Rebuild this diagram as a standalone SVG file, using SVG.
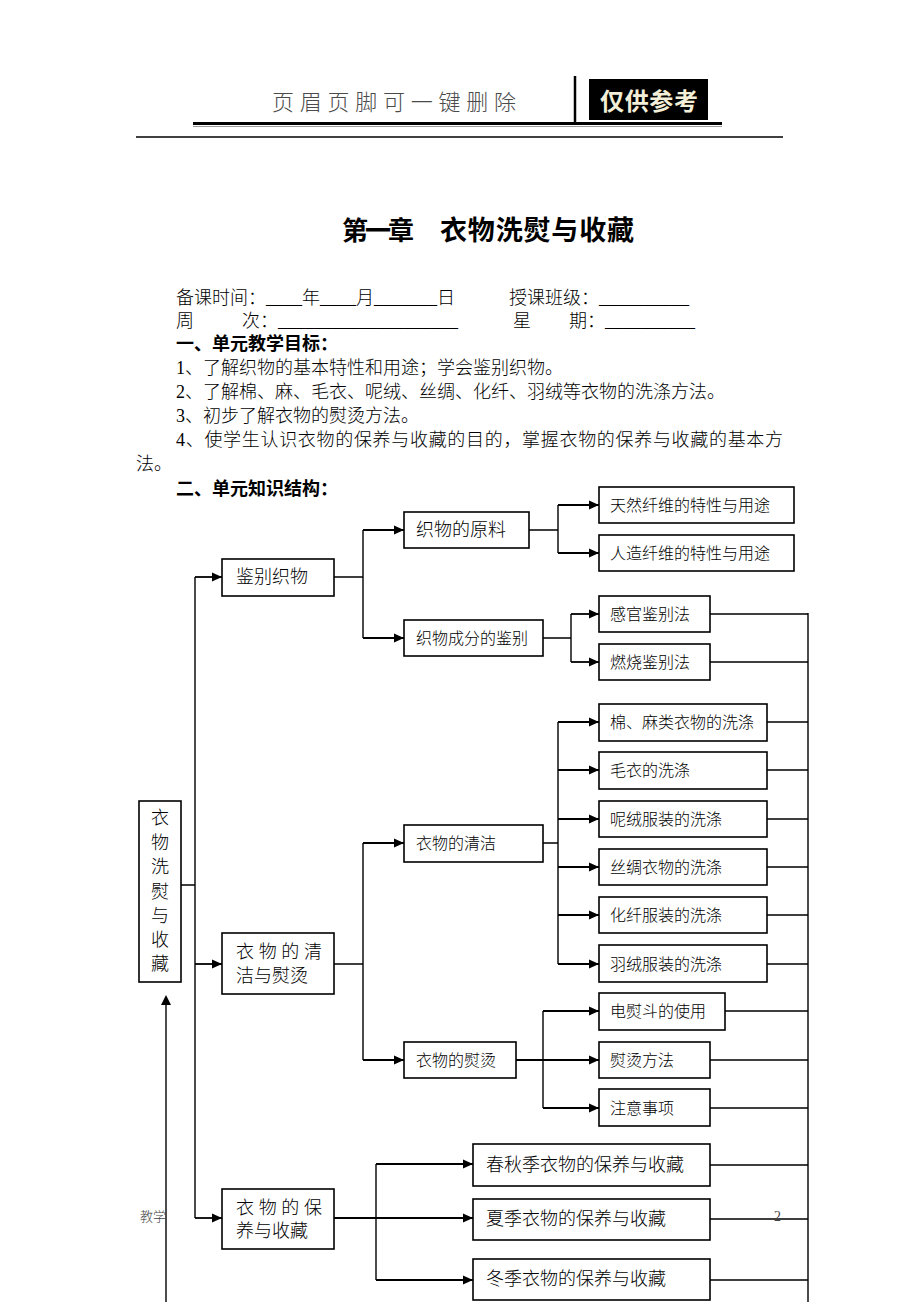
<svg xmlns="http://www.w3.org/2000/svg" width="920" height="1302" viewBox="0 0 920 1302">
<defs>
<style>
text{font-family:"Liberation Serif","Noto Sans CJK SC",serif;fill:#000}
.t{font-size:18px;font-weight:300}
.b{font-size:18px;font-weight:bold}
.n{font-size:16px;font-weight:300}
.m{font-size:18px;font-weight:300}
.box{fill:#fff;stroke:#000;stroke-width:1.6}
.c{fill:none;stroke:#000;stroke-width:1.4}
.a{fill:none;stroke:#000;stroke-width:1.8;marker-end:url(#ah)}
</style>
<marker id="ah" markerWidth="10" markerHeight="10" refX="10" refY="5" orient="auto" markerUnits="userSpaceOnUse"><path d="M0,0.5 L10,5 L0,9.5 z" fill="#000"/></marker>
</defs>
<rect width="920" height="1302" fill="#fff"/>

<g id="header">
<text x="272" y="110" font-size="22" font-weight="300" textLength="244" style="fill:#4a4a4a">页眉页脚可一键删除</text>
<rect x="193" y="122" width="529" height="3" fill="#000"/>
<line x1="193" y1="126.5" x2="722" y2="126.5" stroke="#999" stroke-width="1"/>
<line x1="575" y1="76" x2="575" y2="124" stroke="#000" stroke-width="2.5"/>
<rect x="589" y="79" width="119" height="41" fill="#000"/>
<text x="600" y="110" font-size="24" font-weight="bold" textLength="98" style="fill:#f3eed8">仅供参考</text>
<line x1="136" y1="137" x2="783" y2="137" stroke="#000" stroke-width="1.3"/>
</g>

<g id="intro">
<text x="342" y="240" font-size="26" font-weight="bold" textLength="72">第一章</text>
<text x="440" y="240" font-size="27" font-weight="bold" textLength="194">衣物洗熨与收藏</text>
<text class="t" x="176" y="304">备课时间：____年____月_______日</text>
<text class="t" x="509" y="304">授课班级：__________</text>
<text class="t" x="176" y="327">周</text>
<text class="t" x="242" y="327">次：____________________</text>
<text class="t" x="513" y="327">星</text>
<text class="t" x="569" y="327">期：__________</text>
<text class="b" x="176" y="350">一、单元教学目标：</text>
<text class="t" x="176" y="374">1、了解织物的基本特性和用途；学会鉴别织物。</text>
<text class="t" x="176" y="398">2、了解棉、麻、毛衣、呢绒、丝绸、化纤、羽绒等衣物的洗涤方法。</text>
<text class="t" x="176" y="422">3、初步了解衣物的熨烫方法。</text>
<text class="t" x="176" y="446" textLength="607">4、使学生认识衣物的保养与收藏的目的，掌握衣物的保养与收藏的基本方</text>
<text class="t" x="136" y="470">法。</text>
<text class="b" x="176" y="495">二、单元知识结构：</text>
</g>

<g id="connectors">
<path class="c" d="M181,885 H195 M195,577 V1218"/>
<path class="a" d="M195,577 H222"/>
<path class="a" d="M195,964 H222"/>
<path class="a" d="M195,1218 H222"/>
<path class="c" d="M334,577 H363 M363,530 V638"/>
<path class="a" d="M363,530 H404"/>
<path class="a" d="M363,638 H404"/>
<path class="c" d="M529,530 H558 M558,505 V553"/>
<path class="a" d="M558,505 H599"/>
<path class="a" d="M558,553 H599"/>
<path class="c" d="M543,638 H571 M571,614 V662"/>
<path class="a" d="M571,614 H599"/>
<path class="a" d="M571,662 H599"/>
<path class="c" d="M334,964 H363 M363,843 V1060"/>
<path class="a" d="M363,843 H404"/>
<path class="a" d="M363,1060 H404"/>
<path class="c" d="M543,843 H558 M558,722 V964"/>
<path class="a" d="M558,722 H599"/>
<path class="a" d="M558,770 H599"/>
<path class="a" d="M558,819 H599"/>
<path class="a" d="M558,867 H599"/>
<path class="a" d="M558,915 H599"/>
<path class="a" d="M558,964 H599"/>
<path class="a" d="M516,1060 H599"/>
<path class="c" d="M543,1011 V1108"/>
<path class="a" d="M543,1011 H599"/>
<path class="a" d="M543,1108 H599"/>
<path class="a" d="M334,1218 H473"/>
<path class="c" d="M376,1164 V1280"/>
<path class="a" d="M376,1164 H473"/>
<path class="a" d="M376,1280 H473"/>
<path class="c" d="M710,614 H808 M710,662 H808 M767,722 H808 M767,770 H808 M767,819 H808 M767,867 H808 M767,915 H808 M767,964 H808 M725,1011 H808 M710,1060 H808 M710,1108 H808 M710,1165 H808 M710,1219 H808 M710,1280 H808 M808,613 V1302"/>
<path class="c" d="M166,1302 V1004"/>
<path d="M161,1005 L166,995 L171,1005 z" fill="#000"/>
</g>

<g id="root">
<rect class="box" x="139" y="801" width="42" height="181"/>
<g class="m" text-anchor="middle" dominant-baseline="central">
<text x="160" y="818">衣</text><text x="160" y="843">物</text><text x="160" y="867">洗</text><text x="160" y="892">熨</text><text x="160" y="916">与</text><text x="160" y="940">收</text><text x="160" y="964">藏</text>
</g>
</g>

<g id="n-jianbie"><rect class="box" x="222" y="559" width="112" height="37"/><text class="m" x="236" y="577" dominant-baseline="central">鉴别织物</text></g>
<g id="n-qingjie-yuntang"><rect class="box" x="222" y="933" width="112" height="61"/><text class="m" x="236" y="952" dominant-baseline="central" textLength="86">衣 物 的 清</text><text class="m" x="236" y="976" dominant-baseline="central">洁与熨烫</text></g>
<g id="n-baoyang"><rect class="box" x="222" y="1189" width="112" height="60"/><text class="m" x="236" y="1208" dominant-baseline="central" textLength="86">衣 物 的 保</text><text class="m" x="236" y="1231" dominant-baseline="central">养与收藏</text></g>

<g id="n-yuanliao"><rect class="box" x="404" y="512" width="125" height="36"/><text class="m" x="416" y="530" dominant-baseline="central">织物的原料</text></g>
<g id="n-chengfen"><rect class="box" x="404" y="620" width="139" height="36"/><text class="n" x="416" y="638" dominant-baseline="central">织物成分的鉴别</text></g>
<g id="n-tianran"><rect class="box" x="599" y="487" width="195" height="36"/><text class="n" x="610" y="505" dominant-baseline="central">天然纤维的特性与用途</text></g>
<g id="n-renzao"><rect class="box" x="599" y="535" width="195" height="36"/><text class="n" x="610" y="553" dominant-baseline="central">人造纤维的特性与用途</text></g>
<g id="n-ganguan"><rect class="box" x="599" y="596" width="111" height="36"/><text class="n" x="610" y="614" dominant-baseline="central">感官鉴别法</text></g>
<g id="n-ranshao"><rect class="box" x="599" y="644" width="111" height="36"/><text class="n" x="610" y="662" dominant-baseline="central">燃烧鉴别法</text></g>

<g id="n-qingjie"><rect class="box" x="404" y="825" width="139" height="37"/><text class="n" x="416" y="843" dominant-baseline="central">衣物的清洁</text></g>
<g id="n-mian"><rect class="box" x="599" y="704" width="168" height="37"/><text class="n" x="610" y="722" dominant-baseline="central">棉、麻类衣物的洗涤</text></g>
<g id="n-maoyi"><rect class="box" x="599" y="752" width="168" height="37"/><text class="n" x="610" y="770" dominant-baseline="central">毛衣的洗涤</text></g>
<g id="n-nirong"><rect class="box" x="599" y="801" width="168" height="36"/><text class="n" x="610" y="819" dominant-baseline="central">呢绒服装的洗涤</text></g>
<g id="n-sichou"><rect class="box" x="599" y="849" width="168" height="36"/><text class="n" x="610" y="867" dominant-baseline="central">丝绸衣物的洗涤</text></g>
<g id="n-huaxian"><rect class="box" x="599" y="897" width="168" height="36"/><text class="n" x="610" y="915" dominant-baseline="central">化纤服装的洗涤</text></g>
<g id="n-yurong"><rect class="box" x="599" y="945" width="168" height="37"/><text class="n" x="610" y="964" dominant-baseline="central">羽绒服装的洗涤</text></g>

<g id="n-yuntang"><rect class="box" x="404" y="1042" width="112" height="36"/><text class="n" x="416" y="1060" dominant-baseline="central">衣物的熨烫</text></g>
<g id="n-yundou"><rect class="box" x="599" y="993" width="126" height="37"/><text class="n" x="610" y="1011" dominant-baseline="central">电熨斗的使用</text></g>
<g id="n-fangfa"><rect class="box" x="599" y="1042" width="111" height="36"/><text class="n" x="610" y="1060" dominant-baseline="central">熨烫方法</text></g>
<g id="n-zhuyi"><rect class="box" x="599" y="1089" width="111" height="37"/><text class="n" x="610" y="1108" dominant-baseline="central">注意事项</text></g>

<g id="n-chunqiu"><rect class="box" x="473" y="1144" width="237" height="42"/><text class="m" x="486" y="1165" dominant-baseline="central">春秋季衣物的保养与收藏</text></g>
<g id="n-xia"><rect class="box" x="473" y="1199" width="237" height="41"/><text class="m" x="486" y="1219" dominant-baseline="central">夏季衣物的保养与收藏</text></g>
<g id="n-dong"><rect class="box" x="473" y="1259" width="237" height="41"/><text class="m" x="486" y="1279" dominant-baseline="central">冬季衣物的保养与收藏</text></g>

<g id="footer">
<text x="140" y="1221" font-size="13" font-weight="300" style="fill:#444">教学</text>
<text x="774" y="1221" font-size="14" style="fill:#444">2</text>
</g>
</svg>
